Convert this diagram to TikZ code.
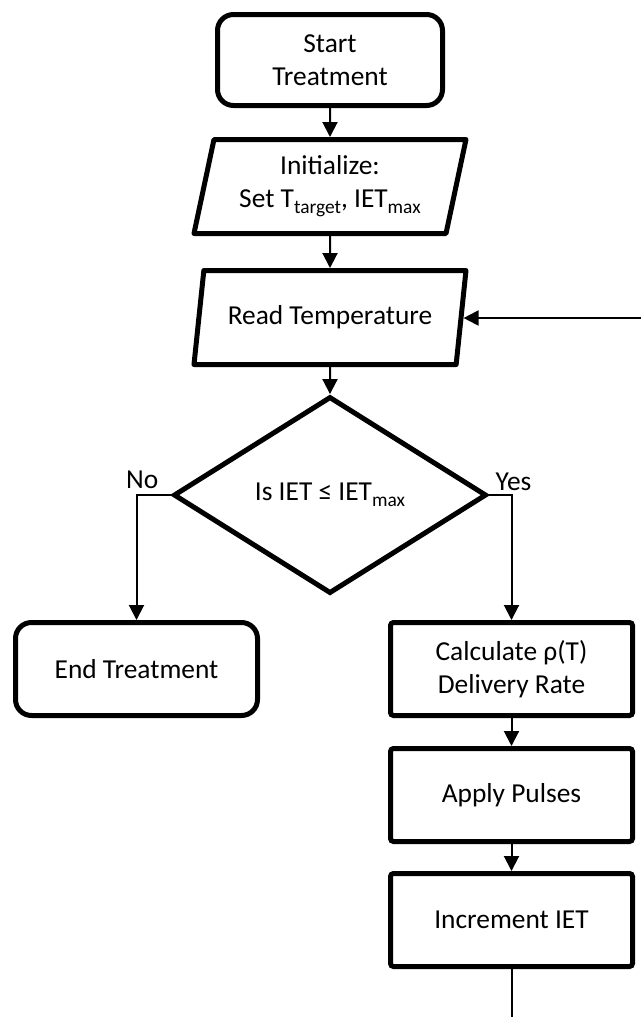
\documentclass[tikz,border=0pt]{standalone}
\usepackage{fontspec}
\setmainfont{Carlito}
\usetikzlibrary{arrows.meta,positioning,shapes.geometric}
\newcommand{\lowtext}[1]{\raisebox{-0.45ex}{\fontsize{9.7}{9.7}\selectfont #1}}

\begin{document}
\begin{tikzpicture}[x=0.5pt, y=-0.5pt, >={Triangle[length=7.5pt,width=7.5pt]},
    font=\fontsize{13.7}{16.5}\selectfont, line width=1pt,
    terminal/.style={draw, line width=2.5pt, rounded corners=8pt, align=center,
        minimum width=112.5pt, minimum height=45.5pt},
    io/.style={draw, line width=2.5pt, trapezium, trapezium left angle=75,
        trapezium right angle=105, trapezium stretches body, align=center,
        minimum width=136pt, minimum height=47pt, line join=round},
    decision/.style={draw, line width=2.5pt, diamond, inner sep=0pt,
        minimum width=156.5pt, minimum height=98.5pt},
    process/.style={draw, line width=2.5pt, rounded corners=1.5pt, align=center,
        minimum width=121pt, minimum height=46.5pt}]
    \useasboundingbox (0,0) rectangle (641,1017);

    % Nodes {start, init, read, dec, etc}
    \node [terminal]    (start) at (330,60)              {Start\\Treatment};
    \node [io]          (init)  [below=14.5pt of start]  {Initialize:\\Set T\lowtext{target}, IET\lowtext{max}};
    \node [io]          (read)  [below=16pt of init]     {Read Temperature};
    \node [decision]    (dec)   [below=13.5pt of read]   {Is IET ≤ IET\lowtext{max}};
    \node [terminal, minimum width=121pt, minimum height=46.5pt]
                        (end)   at (136.5,669)           {End Treatment};
    \node [process]     (calc)  at (511.5,669)           {Calculate ρ(T)\\Delivery Rate};
    \node [process]     (apply) [below=14pt of calc]     {Apply Pulses};
    \node [process]     (incr)  [below=13.5pt of apply]  {Increment IET};
    \coordinate         (loopin)   at (641,318);
    \coordinate         (loopout)  at (511.5,1017);

    % Paths
    \path [->]  (start) edge    (init);
    \path [->]  (init)  edge    (read);
    \path [->]  (read)  edge    (dec);
    \draw [->]  (dec.west) -| node [pos=0, anchor=base east, xshift=-2.5pt, yshift=3.5pt] {No}  (end.north);
    \draw [->]  (dec.east) -| node [pos=0, anchor=base west, xshift=-0.5pt, yshift=2.5pt] {Yes} (calc.north);
    \path [->]  (calc)  edge    (apply);
    \path [->]  (apply) edge    (incr);
    \draw       (incr.south) -- (incr.south |- loopout);
    \draw [->]  (loopin) -- (loopin -| read.east);
\end{tikzpicture}
\end{document}
